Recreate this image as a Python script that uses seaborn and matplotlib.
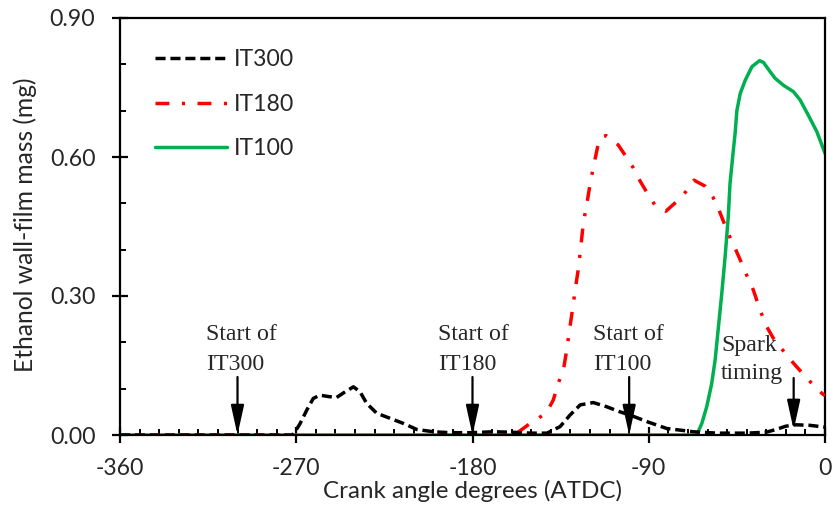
import numpy as np
import pandas as pd
import matplotlib
matplotlib.use("Agg")
import matplotlib.pyplot as plt
from matplotlib.ticker import MultipleLocator
import seaborn as sns

# ---- data ----
it300_x = [-360, -300, -272, -270.6, -268, -264.6, -261.3, -257.9, -253.6, -249.4, -245.1, -240.8, -237.4, -234, -228.9,
           -222.1, -215.3, -208.5, -200, -191.5, -180, -169.5, -160, -150, -142, -135.3, -130.2, -125, -118.3, -111.5,
           -104.7, -99.5, -91, -80.8, -67.2, -55, -40, -30, -25, -20, -15, -8, 0]
it300_y = [0.0, 0.0, 0.0, 0.007, 0.025, 0.054, 0.079, 0.086, 0.083, 0.081, 0.093, 0.104, 0.093, 0.068, 0.047,
           0.036, 0.025, 0.012, 0.007, 0.005, 0.005, 0.007, 0.006, 0.004, 0.004, 0.018, 0.043, 0.065, 0.070, 0.061,
           0.050, 0.043, 0.029, 0.014, 0.007, 0.004, 0.004, 0.006, 0.012, 0.019, 0.022, 0.021, 0.017]
it180_x = [-157, -150.6, -146.3, -142, -138.7, -136.2, -133.6, -131.9, -130.2, -128.5, -126.8, -125.9, -123.4, -121.3, -119.6,
           -117.4, -115.7, -114, -111.8, -105.6, -101.3, -97.8, -94.4, -90.2, -86.8, -81.3, -75.7, -71.1, -66.9, -61.2,
           -57.3, -54.2, -49.4, -45.9, -43.3, -40, -36.6, -33.2, -29.8, -26.4, -22.9, -16.1, -8.5, -1.6, 0]
it180_y = [0.005, 0.025, 0.036, 0.050, 0.076, 0.112, 0.140, 0.183, 0.234, 0.284, 0.335, 0.360, 0.457, 0.507, 0.550,
           0.596, 0.630, 0.644, 0.646, 0.626, 0.599, 0.576, 0.548, 0.518, 0.496, 0.483, 0.504, 0.525, 0.550, 0.537,
           0.514, 0.486, 0.435, 0.403, 0.378, 0.345, 0.313, 0.270, 0.234, 0.209, 0.190, 0.155, 0.119, 0.090, 0.085]
it100_x = [-360, -65.5, -62.9, -60.4, -57.9, -56.1, -54.4, -52.7, -51, -49.4, -48.5, -46.8, -45.9, -45.0, -43.3, -40.7,
           -37.3, -33.4, -31.4, -28, -25.5, -21.3, -16.1, -12.7, -8.5, -4.2, 0]
it100_y = [0.0, 0.0, 0.025, 0.061, 0.110, 0.162, 0.234, 0.306, 0.385, 0.471, 0.543, 0.615, 0.651, 0.700, 0.737, 0.766,
           0.795, 0.808, 0.804, 0.784, 0.770, 0.755, 0.741, 0.723, 0.690, 0.655, 0.608]

series_names = ["IT300", "IT180", "IT100"]
series_colors = ["#000000", "#ff0000", "#00b050"]

annot_text = ["Start of\nIT300", "Start of\nIT180", "Start of\nIT100", "Spark\ntiming"]
annot_x = [-300, -180, -100, -16]          # arrow position (deg)
annot_tip = [0.0, 0.0, 0.0, 0.011]         # arrow tip (mg)

x_ticks = [-360, -270, -180, -90, 0]
y_ticks = [0.0, 0.3, 0.6, 0.9]

# ---- layout (pixel positions measured on the reference) ----
H_PX = 515
AX_L, AX_R, AX_T, AX_B = 120, 825, 18, 435
annot_text_px = [206, 438, 593, 721]
annot_base_px = [(340, 370), (340, 370), (340, 370), (351, 379)]
annot_arrow_top_px = [377, 377, 377, 378]

df = pd.concat([
    pd.DataFrame({"x": it300_x, "y": it300_y, "s": "IT300"}),
    pd.DataFrame({"x": it180_x, "y": it180_y, "s": "IT180"}),
    pd.DataFrame({"x": it100_x, "y": it100_y, "s": "IT100"}),
])

sns.set_style("white")
plt.rcParams["font.family"] = ["Lato", "DejaVu Sans"]

fig = plt.figure(figsize=(8.35, 5.15), dpi=100)
ax = fig.add_axes([AX_L / 835, (H_PX - AX_B) / H_PX, (AX_R - AX_L) / 835, (AX_B - AX_T) / H_PX])

def ax_x(px):
    return (px - AX_L) / (AX_R - AX_L)

def ax_y(py):
    return (AX_B - py) / (AX_B - AX_T)

LW = 2.5
order = ["IT100", "IT180", "IT300"]
for name in order:
    sub = df[df["s"] == name]
    col = series_colors[series_names.index(name)]
    sns.lineplot(data=sub, x="x", y="y", ax=ax, color=col, lw=LW, label=name, sort=False)
    line = ax.lines[-1]
    line.set_solid_joinstyle("round")
    line.set_dash_joinstyle("round")
    if name == "IT300":
        line.set_dashes((2.9, 1.4))
        line.set_zorder(4)
    elif name == "IT180":
        line.set_dashes((4.0, 3.6, 0.9, 3.6))
        line.set_zorder(3)
    else:
        line.set_zorder(2)

ax.set_xlim(-360, 0)
ax.set_ylim(0, 0.9)
ax.set_xticks(x_ticks)
ax.set_yticks(y_ticks)
ax.set_yticklabels([f"{v:.2f}" for v in y_ticks])
ax.set_xticklabels([str(v) for v in x_ticks])
ax.xaxis.set_minor_locator(MultipleLocator(10))
ax.yaxis.set_minor_locator(MultipleLocator(0.1))
ax.tick_params(axis="both", which="major", direction="inout", length=11.5, width=1.6, labelsize=14, color="black")
ax.tick_params(axis="y", which="major", pad=12)
ax.tick_params(axis="x", which="major", pad=11)
ax.tick_params(axis="both", which="minor", direction="in", length=4, width=1.4, color="black")
ax.tick_params(axis="both", which="both", bottom=True, left=True, top=False, right=False)
for sp in ax.spines.values():
    sp.set_linewidth(1.6)
    sp.set_color("black")

ax.set_xlabel("Crank angle degrees (ATDC)", fontsize=14)
ax.set_ylabel("Ethanol wall-film mass (mg)", fontsize=14)
ax.xaxis.label.set_va("baseline")
ax.xaxis.set_label_coords(0.5, ax_y(498))
ax.yaxis.label.set_va("center")
ax.yaxis.set_label_coords(ax_x(25), ax_y(225))

texts = []
for t, tx, (b1, b2) in zip(annot_text, annot_text_px, annot_base_px):
    for ln, b in zip(t.split("\n"), (b1, b2)):
        texts.append(ax.text(ax_x(tx), ax_y(b), ln, transform=ax.transAxes, ha="left", va="baseline",
                             fontsize=16, family="Liberation Serif"))
for xv, tip, top in zip(annot_x, annot_tip, annot_arrow_top_px):
    ytop = (AX_B - top) / (AX_B - AX_T) * 0.9
    ax.annotate("", xy=(xv, tip), xytext=(xv, ytop), textcoords="data",
                arrowprops=dict(arrowstyle="-|>,head_length=1.0,head_width=0.22", color="black",
                                lw=1.6, mutation_scale=18, shrinkA=0, shrinkB=0))

# ---- fit text sizes to the reference's measured pixel sizes ----
fig.canvas.draw()
r = fig.canvas.get_renderer()

def scale_for(txt, target, use_h=False):
    bb = txt.get_window_extent(r)
    w = bb.height if use_h else bb.width
    return txt.get_fontsize() * target / w

xl = ax.xaxis.label
xl.set_fontsize(scale_for(xl, 300))
yl = ax.yaxis.label
yl.set_fontsize(scale_for(yl, 296, use_h=True))
tl = [t for t in ax.get_xticklabels() if t.get_text() == "-180"][0]
tick_fs = scale_for(tl, 49)
ax.tick_params(axis="both", which="major", labelsize=tick_fs)
s = scale_for([t for t in texts if t.get_text() == "Start of"][0], 71)
for t in texts:
    t.set_fontsize(s)

handles, labels = ax.get_legend_handles_labels()
hmap = dict(zip(labels, handles))
leg_fs = tick_fs
fs_px = leg_fs * 100 / 72
ls = 0.8
anchor_y = ax_y(46)

def make_legend(ls, anchor_y):
    return ax.legend([hmap[n] for n in series_names], series_names, loc="upper left", frameon=False,
                     fontsize=leg_fs, handlelength=52 / leg_fs, handletextpad=0.3,
                     labelspacing=ls, borderpad=0, borderaxespad=0,
                     bbox_to_anchor=(ax_x(155), anchor_y))

leg = make_legend(ls, anchor_y)
for _ in range(3):
    fig.canvas.draw()
    cen = [0.5 * (h.get_window_extent(r).y0 + h.get_window_extent(r).y1) for h in leg.legend_handles]
    spacing = (cen[0] - cen[-1]) / 2.0
    ls += (44.5 - spacing) / fs_px
    leg.remove()
    leg = make_legend(ls, anchor_y)
    fig.canvas.draw()
    c0 = 0.5 * (leg.legend_handles[0].get_window_extent(r).y0 + leg.legend_handles[0].get_window_extent(r).y1)
    target = H_PX - 58
    anchor_y += (target - c0) / (AX_B - AX_T)
    leg.remove()
    leg = make_legend(ls, anchor_y)

fig.savefig("out.png", dpi=100)
